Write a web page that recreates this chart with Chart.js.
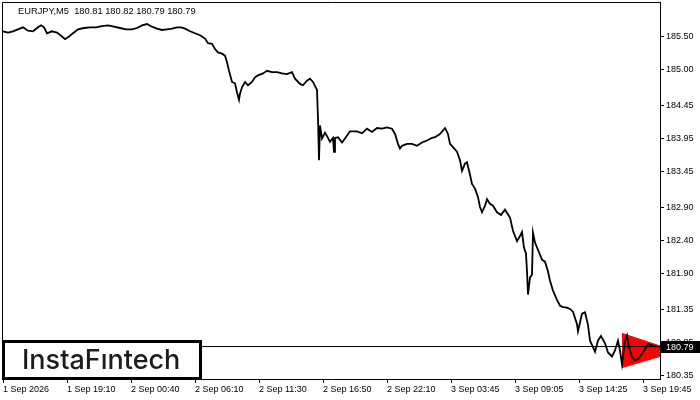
<!DOCTYPE html>
<html>
<head>
<meta charset="utf-8">
<script src="https://cdn.jsdelivr.net/npm/chart.js@4.4.0/dist/chart.umd.min.js"></script>
<style>
  html, body { margin: 0; padding: 0; background: #fff; }
</style>
</head>
<body>
<canvas id="chart" width="700" height="400"></canvas>
<script>
const symbolTitle = 'EURJPY,M5  180.81 180.82 180.79 180.79';
const lastPrice = 180.79;

// bar number (M5 bars from 1 Sep 2026) and close price
const bars = [
  0, 5, 10, 15, 20, 25, 30, 35, 38, 41, 44, 49, 54, 59, 62, 66, 70, 75, 81, 87, 93, 99, 105, 111, 117, 123, 129, 134, 139, 144, 149, 154, 159, 164, 169, 174, 178,
  182, 187, 192, 197, 202, 205, 209, 212, 215, 219, 222, 224, 226, 229, 232, 234, 236, 237, 239, 242, 245, 249, 252, 255, 260, 264, 269, 274, 279, 284, 289, 292, 297, 300, 304, 307, 310, 314, 315, 316, 317, 319, 322, 325, 327,
  330, 331, 332, 335, 339, 342, 347, 354, 359, 364, 369, 374, 379, 384, 389, 392, 395, 397, 399, 404, 409, 414, 419, 424, 429, 432, 437, 442, 445, 447, 450, 454, 457, 459, 462, 464, 467, 469, 472, 475, 477, 479, 482, 484, 487, 490, 494, 498, 502,
  507, 510, 514, 517, 519, 521, 523, 524, 525, 527, 529, 530, 532, 535, 539, 542, 545, 547, 550, 554, 557, 560, 564, 567, 570, 574, 575, 579, 582, 585, 587, 590, 592, 595, 598, 602, 605, 609, 612, 615, 617, 619, 622, 624, 626, 629, 632, 635, 639, 642, 645, 649, 653
];
const closes = [
  185.58, 185.56, 185.58, 185.61, 185.64, 185.59, 185.58, 185.64, 185.67, 185.64, 185.55, 185.58, 185.56, 185.50, 185.46, 185.50, 185.55, 185.61, 185.63, 185.64, 185.64, 185.66, 185.67, 185.65, 185.63, 185.61, 185.61, 185.63, 185.67, 185.69, 185.65, 185.62, 185.60, 185.61, 185.62, 185.64, 185.64,
  185.62, 185.58, 185.55, 185.52, 185.47, 185.40, 185.39, 185.31, 185.26, 185.24, 185.21, 185.11, 184.98, 184.81, 184.79, 184.65, 184.54, 184.63, 184.73, 184.81, 184.76, 184.81, 184.88, 184.91, 184.94, 184.98, 184.96, 184.96, 184.94, 184.93, 184.96, 184.86, 184.78, 184.76, 184.83, 184.86, 184.81, 184.69, 184.25, 183.62, 184.15, 183.95, 184.04, 183.96, 183.90,
  183.96, 183.75, 183.96, 183.97, 183.89, 183.95, 184.06, 184.06, 184.03, 184.10, 184.05, 184.11, 184.10, 184.12, 184.10, 184.02, 183.87, 183.80, 183.84, 183.87, 183.87, 183.84, 183.89, 183.92, 183.96, 183.97, 184.02, 184.11, 184.02, 183.87, 183.82, 183.75, 183.62, 183.46, 183.57, 183.59, 183.40, 183.26, 183.19, 183.06, 182.91, 182.83, 182.93, 183.03, 182.96, 182.93, 182.83, 182.79, 182.87,
  182.75, 182.55, 182.39, 182.47, 182.53, 182.29, 182.20, 181.93, 181.58, 181.84, 181.88, 182.52, 182.37, 182.26, 182.11, 182.08, 181.93, 181.79, 181.64, 181.50, 181.41, 181.39, 181.38, 181.36, 181.32, 181.13, 181.02, 181.29, 181.31, 181.12, 180.88, 180.78, 180.71, 180.88, 180.95, 180.84, 180.70, 180.64, 180.73, 180.88, 180.73, 180.52, 180.88, 180.96, 180.78, 180.63, 180.58, 180.60, 180.68, 180.75, 180.83, 180.81, 180.79
];

// pennant pattern (red) edges
const patternBars = [619, 657];
const patternUpper = [180.99, 180.80];
const patternLower = [180.47, 180.64];

const timeTicks = [0, 64, 128, 192, 256, 320, 384, 448, 512, 576, 640];
const timeLabels = ['1 Sep 2026', '1 Sep 19:10', '2 Sep 00:40', '2 Sep 06:10', '2 Sep 11:30', '2 Sep 16:50',
  '2 Sep 22:10', '3 Sep 03:45', '3 Sep 09:05', '3 Sep 14:25', '3 Sep 19:45'];
const priceTicks = [185.50, 185.00, 184.45, 183.95, 183.45, 182.90, 182.40, 181.90, 181.35, 180.85, 180.35];

const FONT = "'Liberation Sans', Arial, sans-serif";

const mtFrame = {
    id: 'mtFrame',
    afterDraw(chart) {
        const { ctx, chartArea: a, scales } = chart;
        ctx.save();
        // top + left frame lines
        ctx.strokeStyle = '#000';
        ctx.lineWidth = 1;
        ctx.beginPath();
        ctx.moveTo(a.left + 0.5, a.bottom);
        ctx.lineTo(a.left + 0.5, a.top + 0.5);
        ctx.lineTo(a.right, a.top + 0.5);
        ctx.stroke();

        // title
        ctx.fillStyle = '#000';
        ctx.font = '9.3px ' + FONT;
        ctx.textBaseline = 'middle';
        ctx.fillText(symbolTitle, 18, 11);

        // current price box on the axis
        const py = Math.floor(scales.y.getPixelForValue(lastPrice));
        ctx.fillStyle = '#000';
        ctx.fillRect(a.right + 1, py - 5, 40, 12);
        ctx.fillStyle = '#fff';
        ctx.font = '9px ' + FONT;
        ctx.fillText(lastPrice.toFixed(2), a.right + 6, py + 1.5);

        // logo
        ctx.fillStyle = '#fff';
        ctx.fillRect(3, 341, 198, 38);
        ctx.strokeStyle = '#000';
        ctx.lineWidth = 3;
        ctx.strokeRect(3.5, 341.5, 197, 37);
        ctx.fillStyle = '#1c1c1c';
        ctx.font = '500 27px Inter, ' + FONT;
        ctx.textBaseline = 'alphabetic';
        ctx.fillText('InstaFıntech', 22, 369, 159);
        ctx.restore();
    }
};

new Chart(document.getElementById('chart').getContext('2d'), {
    type: 'line',
    plugins: [mtFrame],
    data: {
        datasets: [{
            data: bars.map((b, i) => ({ x: b, y: closes[i] })),
            borderColor: '#000',
            borderWidth: 1.8,
            pointRadius: 0,
            tension: 0
        }, {
            data: [{ x: -1, y: lastPrice }, { x: 657, y: lastPrice }],
            borderColor: '#000',
            borderWidth: 1,
            pointRadius: 0
        }, {
            data: patternBars.map((b, i) => ({ x: b, y: patternUpper[i] })),
            borderColor: '#ff0000',
            backgroundColor: '#ff0000',
            borderWidth: 1,
            pointRadius: 0,
            fill: '+1'
        }, {
            data: patternBars.map((b, i) => ({ x: b, y: patternLower[i] })),
            borderColor: '#ff0000',
            borderWidth: 1,
            pointRadius: 0
        }]
    },
    options: {
        responsive: false,
        animation: false,
        events: [],
        layout: { padding: { left: 2, top: 2, right: 0, bottom: 0 } },
        plugins: {
            legend: { display: false },
            tooltip: { enabled: false }
        },
        scales: {
            x: {
                type: 'linear',
                min: -1,
                max: 657,
                afterBuildTicks: (s) => { s.ticks = timeTicks.map(v => ({ value: v })); },
                afterFit: (s) => { s.height = 21; s.paddingLeft = 0; s.paddingRight = 0; },
                grid: { drawOnChartArea: false, color: '#000', tickLength: 4 },
                border: { display: true, color: '#000' },
                ticks: {
                    autoSkip: false,
                    maxRotation: 0,
                    align: 'start',
                    padding: 1,
                    color: '#000',
                    font: { family: FONT, size: 9 },
                    callback: (v, i) => timeLabels[i]
                }
            },
            y: {
                position: 'right',
                min: 180.297,
                max: 186.025,
                afterBuildTicks: (s) => { s.ticks = priceTicks.map(v => ({ value: v })); },
                afterFit: (s) => { s.width = 40; s.paddingTop = 0; s.paddingBottom = 0; },
                grid: { drawOnChartArea: false, color: '#000', tickLength: 4 },
                border: { display: true, color: '#000' },
                ticks: {
                    padding: 2,
                    color: '#000',
                    font: { family: FONT, size: 9 },
                    callback: (v) => Number(v).toFixed(2)
                }
            }
        }
    }
});
</script>
</body>
</html>
